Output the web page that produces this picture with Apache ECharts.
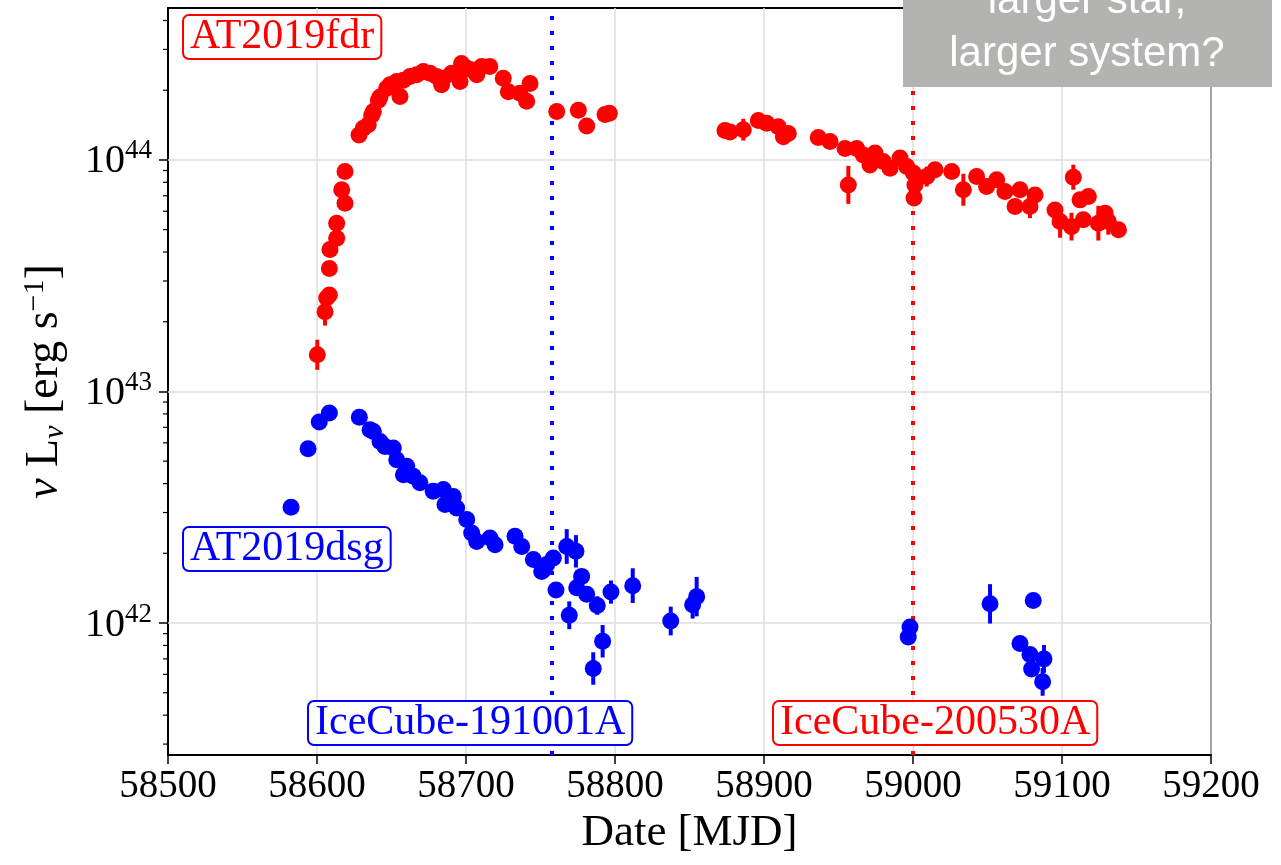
<!DOCTYPE html>
<html>
<head>
<meta charset="utf-8">
<script src="https://cdn.jsdelivr.net/npm/echarts@6/dist/echarts.min.js"></script>
<style>
html,body{margin:0;padding:0;background:#fff;}
#chart{width:1281px;height:865px;}
</style>
</head>
<body>
<div id="chart"></div>
<script>
// ---- Data (MJD, nu L_nu in erg/s, error in dex) ----
const fdrMJD = [58600.2,58605.4,58606.5,58608.3,58608.3,58608.7,58613.2,58613.2,58618.8,58616.6,58618.8,
  58628.2,58631.1,58634.4,58636.7,58637.8,58641.2,58642.3,58646.8,58649.0,58653.5,58655.7,58657.9,58662.4,
  58666.9,58671.3,58675.8,58680.3,58683.6,58684.8,58690.4,58693.7,58696.0,58697.0,58700.5,58703.8,58707.2,
  58710.5,58716.0,58725.0,58728.4,58736.2,58740.7,58743.0,58760.9,58775.4,58781.0,58793.3,58796.2,
  58873.8,58877.2,58886.1,58896.2,58901.8,58909.6,58913.0,58916.3,58936.4,58944.3,58954.4,58956.6,58962.2,
  58966.6,58971.1,58974.5,58980.0,58984.6,58991.3,58995.8,59000.2,59001.3,59000.7,59009.2,59014.8,59026.0,
  59033.8,59042.7,59049.4,59056.2,59061.7,59068.5,59071.8,59078.5,59081.9,59095.3,59098.7,59107.6,59106.4,
  59112.1,59117.7,59114.3,59128.9,59124.4,59131.1,59137.9];
const fdrL = [1.44e43,2.21e43,2.53e43,2.61e43,3.40e43,4.10e43,4.59e43,5.33e43,6.50e43,7.43e43,8.91e43,
  1.28e44,1.37e44,1.42e44,1.56e44,1.62e44,1.81e44,1.87e44,2.04e44,2.11e44,2.18e44,1.88e44,2.21e44,2.29e44,
  2.33e44,2.41e44,2.37e44,2.29e44,2.11e44,2.25e44,2.37e44,2.37e44,2.18e44,2.61e44,2.49e44,2.45e44,2.33e44,
  2.53e44,2.53e44,2.25e44,1.97e44,1.94e44,1.79e44,2.14e44,1.62e44,1.64e44,1.40e44,1.57e44,1.59e44,
  1.34e44,1.32e44,1.35e44,1.48e44,1.44e44,1.39e44,1.26e44,1.30e44,1.25e44,1.20e44,1.12e44,7.80e43,1.12e44,
  1.05e44,9.50e43,1.07e44,9.84e43,9.20e43,1.02e44,9.36e43,8.77e43,7.80e43,6.84e43,8.47e43,9.06e43,8.91e43,
  7.43e43,8.47e43,7.67e43,8.20e43,7.30e43,6.29e43,7.43e43,6.29e43,7.06e43,6.08e43,5.42e43,8.42e43,5.15e43,
  6.72e43,6.95e43,5.51e43,5.89e43,5.33e43,5.42e43,4.99e43];
const fdrErr = [0.065,0.06,0.04,0.03,0.03,0.03,0.03,0.03,0.03,0.03,0.03,
  0,0,0,0,0,0,0,0,0,0,0,0,0,
  0,0,0,0,0,0,0,0,0,0,0,0,0,
  0,0,0,0,0,0,0,0,0,0,0,0,
  0,0,0.047,0,0,0,0,0,0,0,0,0.082,0,
  0,0,0,0,0,0,0,0,0,0,0.043,0,0,
  0.069,0,0,0,0,0,0,0.05,0,0,0.07,0.054,0.06,
  0,0,0,0,0.075,0.057,0];

const dsgMJD = [58582.6,58594.0,58601.5,58608.3,58628.4,58635.6,58637.8,58642.3,58645.6,58651.2,58653.5,
  58658.0,58660.2,58664.6,58669.1,58678.0,58684.8,58685.9,58691.5,58693.7,58700.5,58703.8,58707.2,58716.1,
  58719.5,58732.9,58737.4,58745.2,58750.8,58751.9,58754.2,58758.6,58760.4,58767.6,58773.8,58769.3,58774.3,
  58777.6,58781.0,58788.1,58785.4,58791.7,58797.3,58811.9,58837.4,58852.1,58854.8,58998.0,58996.8,59051.7,
  59080.7,59071.8,59078.5,59087.9,59079.6,59087.0];
const dsgL = [3.16e42,5.66e42,7.38e42,8.07e42,7.73e42,6.83e42,6.72e42,6.08e42,5.79e42,5.70e42,5.07e42,
  4.37e42,4.75e42,4.30e42,4.03e42,3.71e42,3.77e42,3.25e42,3.52e42,3.14e42,2.80e42,2.45e42,2.25e42,2.33e42,
  2.18e42,2.37e42,2.14e42,1.88e42,1.67e42,1.70e42,1.79e42,1.91e42,1.39e42,2.14e42,2.04e42,1.08e42,1.42e42,
  1.59e42,1.33e42,1.19e42,6.36e41,8.34e41,1.36e42,1.45e42,1.02e42,1.20e42,1.30e42,9.62e41,8.71e41,1.21e42,
  1.25e42,8.15e41,7.31e41,7.00e41,6.33e41,5.57e41];
const dsgErr = [0,0,0,0,0,0,0,0,0,0,0,
  0,0,0,0,0,0,0,0,0,0,0,0,0,
  0,0,0,0,0,0,0,0,0,0.075,0.07,0.06,0,
  0,0,0.04,0.07,0.07,0.05,0.075,0.062,0.06,0.085,0,0,0.085,
  0,0,0,0.06,0,0.06];

const neutrinoMJD = [58757.8, 58999.8];
const neutrinoNames = ['IceCube-191001A', 'IceCube-200530A'];
const yDecades = [42, 43, 44];   // major ticks: 10^42, 10^43, 10^44

// ---- Build ----
const X_MIN = 58500, X_MAX = 59200;
const Y_MIN = 41.43, Y_MAX = 44.656;   // log10 space
const serif = '"Liberation Serif", "DejaVu Serif", serif';

function pts(mjd, L) { return mjd.map((m, i) => [m, Math.log10(L[i])]); }
function errs(mjd, L, e) {
  const out = [];
  mjd.forEach((m, i) => { if (e[i] > 0) out.push([m, Math.log10(L[i]), e[i]]); });
  return out;
}
const minorTicks = [];
for (let d = 41; d <= 44; d++) for (let k = 2; k <= 9; k++) {
  const v = d + Math.log10(k);
  if (v > Y_MIN && v < Y_MAX) minorTicks.push([X_MIN, v]);
}

function errRender(color) {
  return function (params, api) {
    const x = api.value(0), y = api.value(1), e = api.value(2);
    const p1 = api.coord([x, y - e]), p2 = api.coord([x, y + e]);
    return { type: 'line', shape: { x1: p1[0], y1: p1[1], x2: p2[0], y2: p2[1] },
      style: { stroke: color, lineWidth: 4 } };
  };
}

const chart = echarts.init(document.getElementById('chart'), null, { renderer: 'canvas' });

const labelBox = (text, x, y, color) => ({
  type: 'text', z: 100, x: x, y: y,
  style: {
    text: text, font: '42px ' + serif, fill: color,
    backgroundColor: '#fff', borderColor: color, borderWidth: 2, borderRadius: 5,
    padding: [0, 6, 0, 6], align: 'left', verticalAlign: 'top'
  }
});

chart.setOption({
  animation: false,
  backgroundColor: '#fff',
  grid: { left: 168, right: 70, top: 8, bottom: 110, show: true, borderColor: '#000', borderWidth: 2 },
  xAxis: {
    type: 'value', min: X_MIN, max: X_MAX, interval: 100,
    name: 'Date [MJD]', nameLocation: 'middle', nameGap: 52,
    nameTextStyle: { fontFamily: serif, fontSize: 45, color: '#000' },
    axisLine: { lineStyle: { color: '#000', width: 2 } },
    axisTick: { inside: false, length: 9, lineStyle: { color: '#000', width: 1.5 } },
    axisLabel: { fontFamily: serif, fontSize: 39, color: '#000', margin: 12,
      formatter: function (v) { return String(v); } },
    splitLine: { show: true, lineStyle: { color: '#dedede', width: 1.5 } }
  },
  yAxis: {
    type: 'value', min: Y_MIN, max: Y_MAX,
    name: '{i|ν} L{sub|ν} [erg s{sup|−1}]', nameLocation: 'middle', nameGap: 98, nameRotate: 90,
    nameTextStyle: {
      fontFamily: serif, fontSize: 46, color: '#000', lineHeight: 50,
      rich: {
        i: { fontFamily: serif, fontSize: 46, fontStyle: 'italic', lineHeight: 50 },
        sub: { fontFamily: serif, fontSize: 30, fontStyle: 'italic', lineHeight: 28, verticalAlign: 'bottom' },
        sup: { fontFamily: serif, fontSize: 30, lineHeight: 28, verticalAlign: 'top' }
      }
    },
    axisLine: { lineStyle: { color: '#000', width: 2 } },
    axisTick: { inside: false, length: 9, customValues: yDecades, lineStyle: { color: '#000', width: 1.5 } },
    axisLabel: {
      customValues: yDecades, margin: 16,
      formatter: function (v) {
        return '{b|10}{s|' + Math.round(v) + '}';
      },
      rich: {
        b: { fontFamily: serif, fontSize: 40, color: '#000', lineHeight: 44, verticalAlign: 'bottom' },
        s: { fontFamily: serif, fontSize: 27, color: '#000', lineHeight: 24, verticalAlign: 'top' }
      }
    },
    splitLine: { show: false }
  },
  series: [
    {
      type: 'custom', name: 'minor', clip: false, silent: true, z: 5,
      data: minorTicks,
      renderItem: function (params, api) {
        const p = api.coord([api.value(0), api.value(1)]);
        return { type: 'line', shape: { x1: p[0] - 5, y1: p[1], x2: p[0], y2: p[1] },
          style: { stroke: '#000', lineWidth: 1.2 } };
      }
    },
    {
      type: 'line', name: 'grid', data: [], z: 1,
      markLine: {
        silent: true, symbol: ['none', 'none'], label: { show: false },
        lineStyle: { color: '#dedede', width: 1.5, type: 'solid' },
        data: yDecades.map(v => ({ yAxis: v }))
      }
    },
    {
      type: 'line', name: 'nu', data: [], z: 3,
      markLine: {
        silent: true, symbol: ['none', 'none'], label: { show: false },
        data: [
          { xAxis: neutrinoMJD[0], lineStyle: { color: '#0000ff', width: 4, type: [4, 11] } },
          { xAxis: neutrinoMJD[1], lineStyle: { color: '#ff0000', width: 4, type: [4, 11] } }
        ]
      }
    },
    { type: 'custom', name: 'fdrErr', z: 6, data: errs(fdrMJD, fdrL, fdrErr), renderItem: errRender('#ff0000') },
    { type: 'custom', name: 'dsgErr', z: 6, data: errs(dsgMJD, dsgL, dsgErr), renderItem: errRender('#0000ff') },
    { type: 'scatter', name: 'AT2019fdr', z: 7, symbol: 'circle', symbolSize: 17,
      itemStyle: { color: '#ff0000', opacity: 1 }, data: pts(fdrMJD, fdrL) },
    { type: 'scatter', name: 'AT2019dsg', z: 7, symbol: 'circle', symbolSize: 17,
      itemStyle: { color: '#0000ff', opacity: 1 }, data: pts(dsgMJD, dsgL) }
  ],
  graphic: [
    labelBox('AT2019fdr', 184, 16, '#ff0000'),
    labelBox('AT2019dsg', 184, 528, '#0000ff'),
    labelBox(neutrinoNames[0], 309, 702, '#0000ff'),
    labelBox(neutrinoNames[1], 774, 702, '#ff0000'),
    { type: 'rect', z: 110, shape: { x: 903, y: -2, width: 369, height: 89 }, style: { fill: '#b3b4b2' } },
    { type: 'text', z: 111, x: 1087, y: 1, style: { text: 'larger star,', font: '42px "Liberation Sans", Arial, sans-serif',
      fill: '#fff', align: 'center', verticalAlign: 'middle' } },
    { type: 'text', z: 111, x: 1087, y: 54, style: { text: 'larger system?', font: '42px "Liberation Sans", Arial, sans-serif',
      fill: '#fff', align: 'center', verticalAlign: 'middle' } }
  ]
});
</script>
</body>
</html>
